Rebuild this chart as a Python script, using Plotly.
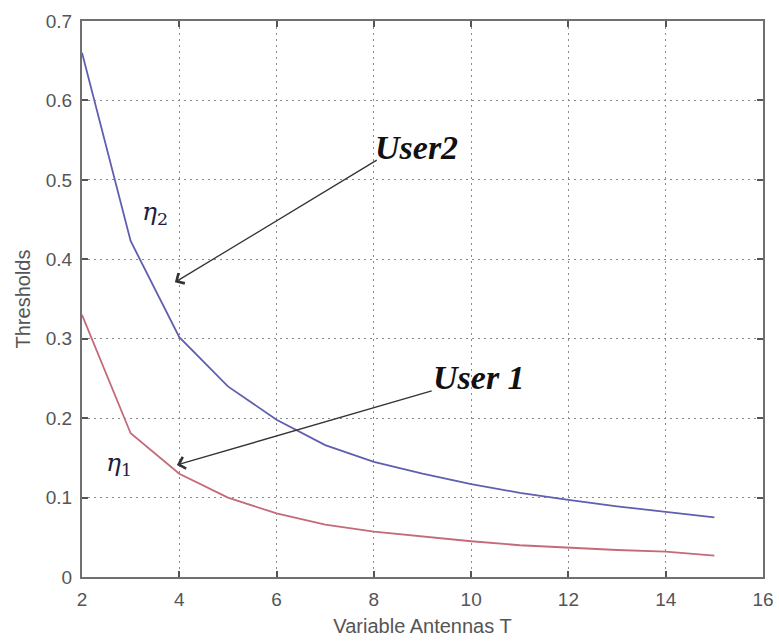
import plotly.graph_objects as go

antennas = [2, 3, 4, 5, 6, 7, 8, 9, 10, 11, 12, 13, 14, 15]
user2_eta2 = [0.66, 0.423, 0.302, 0.240, 0.198, 0.166, 0.145, 0.130, 0.117, 0.106, 0.097, 0.089, 0.082, 0.075]
user1_eta1 = [0.330, 0.181, 0.130, 0.100, 0.080, 0.066, 0.057, 0.051, 0.045, 0.040, 0.037, 0.034, 0.032, 0.027]

x_ticks = [2, 4, 6, 8, 10, 12, 14, 16]
y_ticks = [0, 0.1, 0.2, 0.3, 0.4, 0.5, 0.6, 0.7]
y_tick_text = ["0", "0.1", "0.2", "0.3", "0.4", "0.5", "0.6", "0.7"]

fig = go.Figure()
fig.add_trace(go.Scatter(x=antennas, y=user2_eta2, mode="lines",
                         line=dict(color="#5f5fb0", width=1.8), showlegend=False))
fig.add_trace(go.Scatter(x=antennas, y=user1_eta1, mode="lines",
                         line=dict(color="#c46a78", width=1.8), showlegend=False))

tick_font = dict(family="Liberation Sans", size=19, color="#555555")
title_font = dict(family="Liberation Sans", size=20, color="#555555")
axis_common = dict(showline=True, linecolor="#707070", linewidth=2, mirror="ticks",
                   showgrid=True, gridcolor="#8a8a8a", griddash="2px,4px", gridwidth=1.2,
                   ticks="inside", ticklen=6, tickwidth=1.5, tickcolor="#555555", zeroline=False,
                   tickfont=tick_font, automargin=False, ticklabelstandoff=4)

fig.update_layout(
    width=779, height=641,
    margin=dict(l=82, r=16, t=21, b=64),
    paper_bgcolor="white", plot_bgcolor="white",
    xaxis=dict(range=[2, 16], tickvals=x_ticks, ticktext=[str(v) for v in x_ticks],
               title=dict(text="Variable Antennas T", font=title_font, standoff=10),
               **axis_common),
    yaxis=dict(range=[0, 0.7], tickvals=y_ticks, ticktext=y_tick_text,
               title=dict(text="Thresholds", font=title_font, standoff=10),
               **axis_common),
)

arrow_style = dict(showarrow=True, arrowhead=4, arrowsize=1.8, arrowwidth=1.3, arrowcolor="#333333",
                   axref="x", ayref="y", xref="x", yref="y", text="")
fig.add_annotation(x=3.91, y=0.371, ax=8.09, ay=0.526, **arrow_style)
fig.add_annotation(x=3.95, y=0.141, ax=9.22, ay=0.235, **arrow_style)

label_font = dict(family="Liberation Serif", size=34, color="#111111")
fig.add_annotation(x=8.87, y=0.541, text="<b><i>User2</i></b>", showarrow=False, font=label_font)
fig.add_annotation(x=10.16, y=0.251, text="<b><i>User 1</i></b>", showarrow=False, font=label_font)

eta_font = dict(family="DejaVu Serif", size=25, color="#1e1e3c")
fig.add_annotation(x=3.5, y=0.458, text="<i>η</i><sub>2</sub>", showarrow=False, font=eta_font)
fig.add_annotation(x=2.76, y=0.142, text="<i>η</i><sub>1</sub>", showarrow=False, font=eta_font)

fig.write_html("out.html",
               config={"displayModeBar": False},
               post_script="document.body.style.margin='0';document.body.style.overflow='hidden';")
